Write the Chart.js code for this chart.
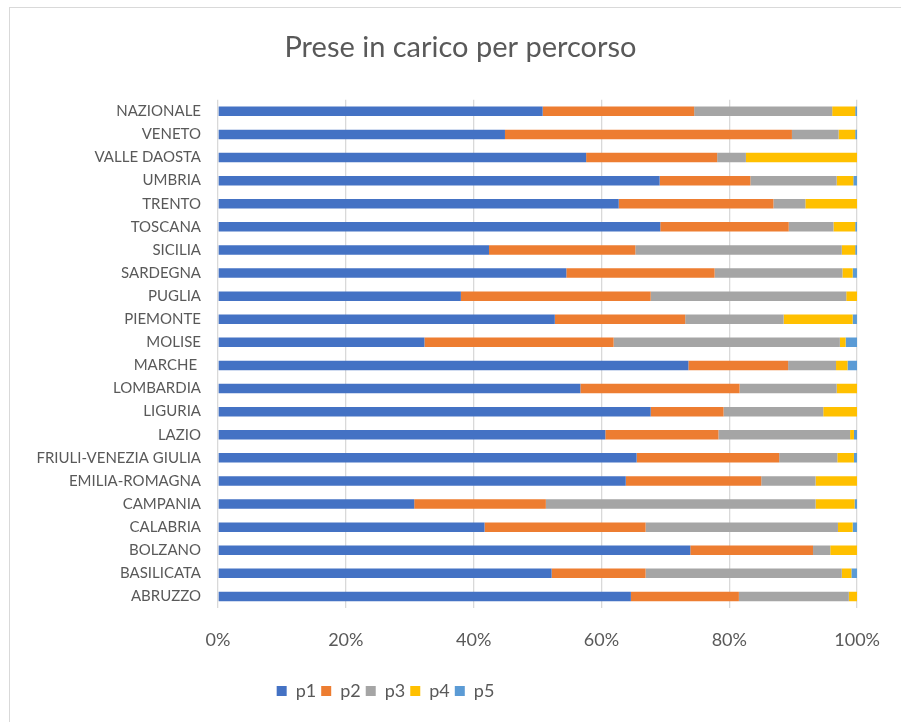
<!DOCTYPE html>
<html>
<head>
<meta charset="utf-8">
<script src="https://cdn.jsdelivr.net/npm/chart.js@4.4.1/dist/chart.umd.min.js"></script>
<style>
  html, body { margin: 0; padding: 0; background: #fff; }
  #wrap { width: 901px; height: 722px; }
</style>
</head>
<body>
<div id="wrap"><canvas id="myChart" width="901" height="722"></canvas></div>
<script>
// Regioni, dall'alto verso il basso
const regioni = ['NAZIONALE', 'VENETO', 'VALLE DAOSTA', 'UMBRIA', 'TRENTO', 'TOSCANA', 'SICILIA',
  'SARDEGNA', 'PUGLIA', 'PIEMONTE', 'MOLISE', 'MARCHE ', 'LOMBARDIA', 'LIGURIA', 'LAZIO',
  'FRIULI-VENEZIA GIULIA', 'EMILIA-ROMAGNA', 'CAMPANIA', 'CALABRIA', 'BOLZANO', 'BASILICATA', 'ABRUZZO'];

// Quote percentuali per percorso
const p1 = [50.8, 44.9, 57.6, 69.1, 62.7, 69.2, 42.4, 54.5, 38.0, 52.7, 32.3, 73.6, 56.7, 67.7, 60.6, 65.5, 63.8, 30.7, 41.7, 73.9, 52.2, 64.6];
const p2 = [23.7, 44.9, 20.5, 14.2, 24.2, 20.1, 22.9, 23.2, 29.7, 20.4, 29.6, 15.6, 24.9, 11.4, 17.7, 22.3, 21.2, 20.6, 25.2, 19.2, 14.7, 16.9];
const p3 = [21.6, 7.3, 4.5, 13.5, 5.0, 7.0, 32.3, 20.0, 30.6, 15.4, 35.4, 7.5, 15.2, 15.6, 20.6, 9.1, 8.5, 42.2, 30.1, 2.7, 30.7, 17.2];
const p4 = [3.6, 2.6, 17.4, 2.6, 8.1, 3.4, 2.1, 1.6, 1.7, 10.8, 0.9, 1.8, 3.2, 5.3, 0.6, 2.6, 6.5, 6.1, 2.3, 4.2, 1.5, 1.3];
const p5 = [0.3, 0.3, 0, 0.6, 0, 0.3, 0.3, 0.7, 0, 0.7, 1.8, 1.5, 0, 0, 0.5, 0.5, 0, 0.4, 0.7, 0, 0.9, 0];

const percorsi = ['p1', 'p2', 'p3', 'p4', 'p5'];
const valori = [p1, p2, p3, p4, p5];
const colori = ['#4472C4', '#ED7D31', '#A5A5A5', '#FFC000', '#5B9BD5'];
const tickX = [0, 20, 40, 60, 80, 100];

const grigio = '#595959';
const famiglia = 'Lato, "Open Sans", sans-serif';

// sfondo, cornice e spostamento di titolo e legenda
const ritocchi = {
  id: 'ritocchi',
  afterLayout(chart) {
    chart.titleBlock.left += 31;
    chart.titleBlock.right += 31;
    chart.legend.left -= 44;
    chart.legend.right -= 44;
  },
  beforeDraw(chart) {
    const c = chart.ctx;
    c.save();
    c.fillStyle = '#ffffff';
    c.fillRect(0, 0, chart.width, chart.height);
    c.strokeStyle = '#d9d9d9';
    c.lineWidth = 1;
    c.strokeRect(9.5, 7.5, 1000, 1000);
    c.restore();
  }
};

new Chart(document.getElementById('myChart'), {
  type: 'bar',
  data: {
    labels: regioni,
    datasets: percorsi.map((nome, i) => ({
      label: nome,
      data: valori[i],
      backgroundColor: colori[i],
      borderWidth: 0,
      barPercentage: 1,
      categoryPercentage: 0.41
    }))
  },
  options: {
    indexAxis: 'y',
    responsive: false,
    animation: false,
    layout: { padding: { left: 0, right: 42, top: 0, bottom: 12 } },
    plugins: {
      title: {
        display: true,
        text: 'Prese in carico per percorso',
        color: grigio,
        font: { family: famiglia, size: 29, weight: 'normal' },
        padding: { top: 30, bottom: 35 }
      },
      legend: {
        position: 'bottom',
        labels: {
          color: grigio,
          boxWidth: 10,
          boxHeight: 10,
          padding: 5,
          font: { family: famiglia, size: 18 }
        }
      },
      tooltip: { enabled: false }
    },
    scales: {
      x: {
        stacked: true,
        min: 0,
        max: 100,
        afterBuildTicks: s => { s.ticks = tickX.map(v => ({ value: v })); },
        afterFit: s => { s.height = 69; },
        grid: { color: '#d9d9d9', lineWidth: 1.3, drawTicks: false },
        border: { display: false },
        ticks: {
          color: grigio,
          padding: 21,
          font: { family: famiglia, size: 18 },
          callback: v => v + '%'
        }
      },
      y: {
        stacked: true,
        afterFit: s => { s.width = 218; },
        grid: { display: false, drawTicks: false },
        border: { display: false },
        ticks: {
          color: grigio,
          padding: 17,
          autoSkip: false,
          font: { family: famiglia, size: 15 }
        }
      }
    }
  },
  plugins: [ritocchi]
});
</script>
</body>
</html>
